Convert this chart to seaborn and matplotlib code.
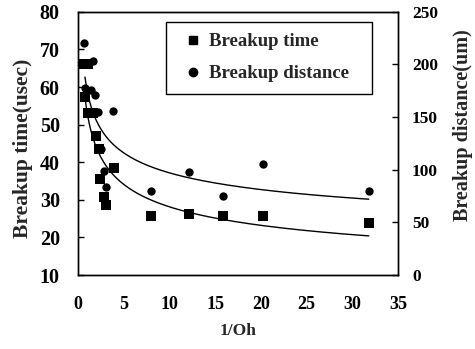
import numpy as np
import pandas as pd
import matplotlib
matplotlib.use("Agg")
import matplotlib.pyplot as plt
import seaborn as sns
from matplotlib.lines import Line2D

# Data
x_time = [0.6, 1.1, 0.8, 1.1, 1.6, 2.0, 2.3, 2.4, 2.85, 3.1, 3.9, 8.0, 12.2, 15.9, 20.2, 31.8]
time_us = [66.2, 66.2, 57.3, 53.0, 53.0, 47.0, 43.6, 35.5, 30.7, 28.6, 38.5, 25.6, 26.2, 25.6, 25.8, 23.8]

x_dist = [0.65, 1.6, 0.8, 1.4, 1.9, 2.2, 3.8, 2.5, 2.85, 3.1, 8.0, 12.2, 15.9, 20.2, 31.8]
dist_um = [220, 203, 178, 176, 171, 155, 156, 120, 99, 84, 80, 98, 75, 105, 80]

x_ticks = [0, 5, 10, 15, 20, 25, 30, 35]
y_left_ticks = [10, 20, 30, 40, 50, 60, 70, 80]
y_right_ticks = [0, 50, 100, 150, 200, 250]

sns.set_theme(style="white")
plt.rcParams['font.family'] = ['Liberation Serif', 'DejaVu Serif']
plt.rcParams['font.weight'] = 'bold'

fig = plt.figure(figsize=(4.75, 3.49), dpi=100)
ax = fig.add_axes([0.164, 0.212, 0.674, 0.754])
ax2 = ax.twinx()

# Power-law trendlines fitted to the data (as in a spreadsheet trendline)
def power_fit(x, y):
    b, a = np.polyfit(np.log(x), np.log(y), 1)
    xs = np.linspace(0.77, 31.8, 200)
    return xs, np.exp(a) * xs ** b

df_t = pd.DataFrame({"x": x_time, "y": time_us})
df_d = pd.DataFrame({"x": x_dist, "y": dist_um})
xt, yt = power_fit(x_time, time_us)
xd, yd = power_fit(x_dist, dist_um)

sns.lineplot(x=xt, y=yt, ax=ax, color="black", linewidth=1.0)
sns.scatterplot(data=df_t, x="x", y="y", ax=ax, marker="s", s=45, color="black",
                edgecolor="black", linewidth=0)
sns.lineplot(x=xd, y=yd, ax=ax2, color="black", linewidth=1.0)
sns.scatterplot(data=df_d, x="x", y="y", ax=ax2, marker="o", s=36, color="black",
                edgecolor="black", linewidth=0)

ax.set_xlim(0, 35)
ax.set_ylim(10, 80)
ax2.set_ylim(0, 250)
ax.set_xticks(x_ticks)
ax.set_yticks(y_left_ticks)
ax2.set_yticks(y_right_ticks)

ax.set_xlabel("1/Oh", fontsize=12.5, fontweight="bold", labelpad=7)
ax.set_ylabel("Breakup time(usec)", fontsize=15.5, fontweight="bold", labelpad=5, y=0.48)
ax2.set_ylabel("Breakup distance(um)", fontsize=14.5, fontweight="bold", labelpad=11, y=0.57)

for a in (ax, ax2):
    for sp in a.spines.values():
        sp.set_color("black")
        sp.set_linewidth(1.0)
ax.tick_params(axis="x", direction="in", length=4, width=1, colors="black",
               labelsize=13, pad=15)
ax.tick_params(axis="y", direction="in", length=4, width=1, colors="black",
               labelsize=14.5, pad=13)
ax2.tick_params(axis="y", direction="in", length=4, width=1, colors="black",
                labelsize=12.5, pad=10)
for a in (ax, ax2):
    for lab in a.get_xticklabels() + a.get_yticklabels():
        lab.set_fontweight("bold")

handles = [
    Line2D([], [], marker="s", linestyle="none", color="black", markersize=6),
    Line2D([], [], marker="o", linestyle="none", color="black", markersize=6),
]
leg = ax2.legend(handles, ["Breakup time", "Breakup distance"], loc="upper left",
                 bbox_to_anchor=(0.275, 0.70, 0.644, 0.262), mode="expand",
                 borderaxespad=0, frameon=True, fancybox=False,
                 edgecolor="black", handlelength=1.7, handletextpad=0.0,
                 borderpad=0.6, labelspacing=0.8,
                 prop={"weight": "bold", "size": 13.5})
for t in leg.get_texts():
    t.set_fontweight("bold")
leg.get_frame().set_linewidth(1.0)
leg.get_frame().set_alpha(1.0)

fig.savefig("out.png", dpi=100)
